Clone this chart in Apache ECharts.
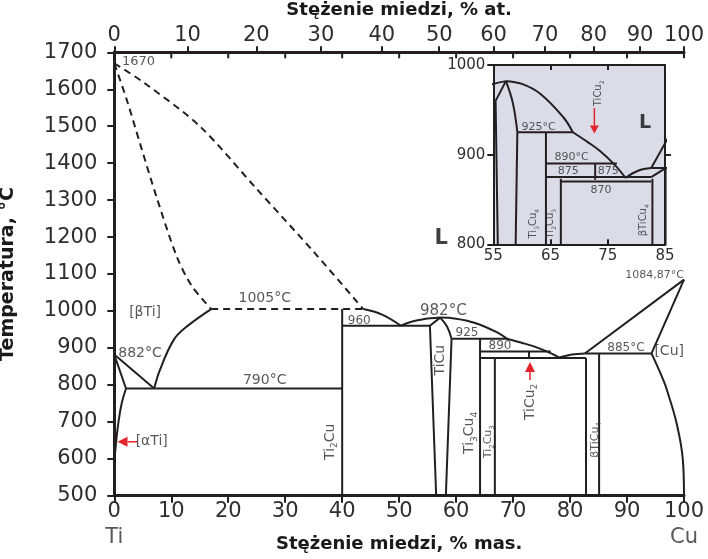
<!DOCTYPE html>
<html><head><meta charset="utf-8">
<script src="https://cdn.jsdelivr.net/npm/echarts@6/dist/echarts.min.js"></script>
<style>html,body{margin:0;padding:0;background:#fff}#c{width:708px;height:559px}</style>
</head><body><div id="c"></div>
<script>
// ---- axis ticks ----
const wtTicks = [0,10,20,30,40,50,60,70,80,90,100];
const atTicks = [0,10,20,30,40,50,60,70,80,90,100];
const tempMin = 500, tempMax = 1700, tempStep = 100;
const insetXLabels = [55,65,75,85];
const insetXTicks = [65,75];
const insetYLabels = [800,900,1000];
const insetYRightTicks = [900];

// ---- phase boundaries (wt% Cu, °C) ----
const liqDashA = [[0,1670],[2.2,1571],[4.5,1454],[7.4,1309],[10.9,1150],[13.5,1070],[17,1005]];
const liqDashB = [[0,1670],[5,1620],[15,1500],[25,1330],[35,1160],[43.7,1005]];
const peri1005 = [[17,1005],[43.7,1005]];
const betaTiSolvus = [[7,790],[8,840],[10.4,921],[12.5,955],[17,1005]];
const lineA882 = [[0,882],[7,790]];
const lineB882 = [[0,882],[2.05,790]];
const alphaTiSolvus = [[2.05,790],[1.3,750],[0.7,696],[0.3,642],[0,578],[0,500]];
const eut790 = [[2.05,790],[40,790]];
const ti2cuLine = [[40,1005],[40,500]];
const eut960 = [[40,960],[55.4,960]];
const liq1 = [[43.7,1005],[47,990],[50.3,960]];
const liq2 = [[50.3,960],[52,970],[54,977],[57.2,982]];
const ticuLeft = [[57.2,982],[55.4,960],[56.5,500]];
const ticuRightTop = [[57.2,982],[58.4,958],[59.2,925]];
const ticuRight = [[59.2,925],[58.2,500]];
const liq3 = [[57.2,982],[60,979],[63.2,968],[67.2,942],[68.9,925]];
const liq4 = [[68.9,925],[71.5,914],[73.65,904],[76.3,888],[78.1,874]];
const peri925 = [[59.2,925],[68.9,925]];
const ti3cu4Line = [[64.2,925],[64.2,500]];
const peri890 = [[64.2,890],[76.6,890]];
const ticu2Line = [[72.8,890],[72.8,872]];
const eut873 = [[64.2,873],[82.8,873]];
const ti2cu3Line = [[66.8,873],[66.8,500]];
const bTiCu4Left = [[82.8,873],[82.8,500]];
const bTiCu4Right = [[85.1,885],[85.1,500]];
const liq5 = [[78.1,874],[80.3,882],[82.6,885]];
const liqCu = [[82.6,885],[100,1084.87]];
const peri885 = [[82.6,885],[94.3,885]];
const solidusCu = [[94.3,885],[100,1084.87]];
const solvusCu = [[94.3,885],[96.4,812],[97.0,786],[98.7,696],[99.8,597],[100,500]];
// inset-only detail
const ins875 = [[64.2,875],[82.6,875]];
const ins870 = [[66.8,870],[82.6,870]];
const insDiag = [[82.6,875],[85.1,885]];

// at.% -> wt.% for the upper scale
const M_TI = 47.867, M_CU = 63.546;
const atToWt = a => 100 * a * M_CU / (a * M_CU + (100 - a) * M_TI);
const atWt = atTicks.map(atToWt);

const INK = '#231f20', TXT = '#2e2e2e', RED = '#e1252b', FONT = 'DejaVu Sans';

function ln(data, o) {
  o = o || {};
  return {type:'line', data, xAxisIndex:o.g?2:0, yAxisIndex:o.g?2:0, showSymbol:false, symbol:'none',
    smooth:o.s||false, silent:true, animation:false, z:3,
    lineStyle:{color:INK, width:o.w||2, type:o.d?[7,5]:'solid'}};
}
const mainSets = [
  [liqDashA,{d:1,s:0.3}],[liqDashB,{d:1,s:0.3}],[peri1005,{d:1}],
  [betaTiSolvus,{s:0.4}],[lineA882],[lineB882],[alphaTiSolvus,{s:0.4}],[eut790],[ti2cuLine],
  [eut960],[liq1,{s:0.4}],[liq2,{s:0.4}],[ticuLeft],[ticuRightTop,{s:0.4}],[ticuRight],
  [liq3,{s:0.4}],[liq4,{s:0.4}],[peri925],[ti3cu4Line],[peri890],[ticu2Line],[eut873],
  [ti2cu3Line],[bTiCu4Left],[bTiCu4Right],[liq5,{s:0.4}],[liqCu],[peri885],[solidusCu],[solvusCu,{s:0.4}]
];
const insetSets = [
  [liq2,{s:0.4}],[ticuLeft],[ticuRightTop,{s:0.4}],[ticuRight],[liq3,{s:0.4}],[liq4,{s:0.4}],
  [peri925],[ti3cu4Line],[peri890],[ticu2Line],[ins875],[ins870],[insDiag],[ti2cu3Line],
  [bTiCu4Left],[bTiCu4Right],[liq5,{s:0.4}],[liqCu],[peri885]
];

// ---- annotations: [text, x, y, fontSize, opts] ----
const mainNotes = [
  ['1670',1.35,1674,13,{al:'left'}],
  ['[βTi]',5.4,997,14],
  ['882°C',0.7,886,14,{al:'left'}],
  ['1005°C',26.4,1035,14],
  ['790°C',26.4,813,14],
  ['960',43,974,12],
  ['982°C',57.75,1000,15],
  ['925',61.9,941,12],
  ['890',67.7,905,12],
  ['885°C',89.8,900,12],
  ['[Cu]',97.4,890,14],
  ['1084,87°C',100,1097,11,{al:'right'}],
  ['{n|TiCu}',57.2,867,14,{r:90}],
  ['{n|Ti}{s|2}{n|Cu}',37.9,646,14,{r:90}],
  ['{n|Ti}{s|3}{n|Cu}{s|4}',62.4,670,14,{r:90}],
  ['{n|Ti}{s|2}{n|Cu}{s|3}',65.6,646,11,{r:90}],
  ['{n|TiCu}{s|2}',72.97,754,14,{r:90}],
  ['{n|βTiCu}{s|4}',84.4,651,11,{r:90}],
  ['[αTi]',6.57,646,14],
  ['L',57.4,1197,21,{b:1}],
  ['Ti',0,500,21,{oy:42}],
  ['Cu',100,500,21,{oy:42}]
];
const insetNotes = [
  ['925°C',62.9,930.4,11],
  ['890°C',68.7,896.9,11],
  ['875',68.1,881.9,11],
  ['875',75.1,881.9,11],
  ['870',73.8,860.3,11],
  ['{n|TiCu}{s|2}',73.4,968.4,10,{r:90}],
  ['L',81.5,934.9,19,{b:1}],
  ['{n|Ti}{s|3}{n|Cu}{s|4}',62.0,823,10,{r:90}],
  ['{n|Ti}{s|2}{n|Cu}{s|3}',65.0,823,10,{r:90}],
  ['{n|βTiCu}{s|4}',81.2,826.8,10,{r:90}]
];
// arrows: [x_tail, y_tail, x_tip, y_tip]
const mainArrows = [[72.97,813,72.97,862],[4.0,646,0.56,646]];
const insetArrows = [[72.66,952,72.66,923.5]];

function noteSeries(notes, g) {
  return {type:'scatter', xAxisIndex:g?2:0, yAxisIndex:g?2:0, symbolSize:1, silent:true, animation:false, z:5,
    itemStyle:{color:'rgba(0,0,0,0)'},
    data: notes.map(([t,x,y,fs,o]) => {
      o = o || {};
      return {value:[x,y], label:{show:true, position:'inside', formatter:t, rotate:o.r||0,
        align:o.al||'center', verticalAlign:'middle', offset:[0,o.oy||0],
        fontSize:fs, fontFamily:FONT, fontWeight:o.b?'bold':'normal', color:o.b?'#111':TXT,
        rich:{n:{fontSize:fs, fontFamily:FONT, color:TXT, lineHeight:fs+4},
              s:{fontSize:Math.round(fs*0.62), fontFamily:FONT, color:TXT, verticalAlign:'bottom', lineHeight:fs+4}}}};
    })};
}
function arrowSeries(arr, g, head, wid) {
  return {type:'custom', xAxisIndex:g?2:0, yAxisIndex:g?2:0, silent:true, animation:false, z:6, clip:false,
    data: arr,
    renderItem:(p, api) => {
      const a = api.coord([api.value(0), api.value(1)]), b = api.coord([api.value(2), api.value(3)]);
      const dx = b[0]-a[0], dy = b[1]-a[1], L = Math.hypot(dx,dy), ux = dx/L, uy = dy/L;
      const bx = b[0]-ux*head, by = b[1]-uy*head;
      return {type:'group', children:[
        {type:'line', shape:{x1:a[0],y1:a[1],x2:bx,y2:by}, style:{stroke:RED, lineWidth:1.5}},
        {type:'polygon', shape:{points:[[b[0],b[1]],[bx-uy*wid/2,by+ux*wid/2],[bx+uy*wid/2,by-ux*wid/2]]}, style:{fill:RED}}
      ]};
    }};
}
const topInnerTicks = {type:'custom', xAxisIndex:0, yAxisIndex:0, silent:true, animation:false, z:6, clip:false,
  data: wtTicks.map(v => [v]),
  renderItem:(p, api) => {
    const q = api.coord([api.value(0), tempMax]);
    return {type:'line', shape:{x1:q[0], y1:q[1], x2:q[0], y2:q[1]+6}, style:{stroke:INK, lineWidth:2}};
  }};

const plain = v => String(v);
const axLine3 = {show:true, lineStyle:{color:INK, width:3}};
const axLine2 = {show:true, lineStyle:{color:INK, width:2}};
const lbl = (fs, m) => ({color:TXT, fontSize:fs, fontFamily:FONT, margin:m, formatter:plain});
const nameStyle = fs => ({color:'#1a1a1a', fontSize:fs, fontWeight:'bold', fontFamily:FONT});

const option = {
  animation:false,
  grid:[
    {left:114.3, top:52.3, right:24, bottom:63.3, show:false, containLabel:false, outerBoundsMode:'none'},
    {left:493.3, top:65, width:171.7, height:179.3, show:true, backgroundColor:'#dcdce9', borderWidth:0, containLabel:false, outerBoundsMode:'none'}
  ],
  xAxis:[
    {gridIndex:0, type:'value', position:'bottom', min:0, max:100, interval:10,
     axisLine:axLine3, axisTick:{show:true, length:7, lineStyle:{color:INK, width:2}},
     axisLabel:lbl(21,5), splitLine:{show:false},
     name:'Stężenie miedzi, % mas.', nameLocation:'middle', nameGap:40, nameTextStyle:nameStyle(18)},
    {gridIndex:0, type:'value', position:'top', min:0, max:100,
     axisLine:axLine3,
     axisTick:{show:true, length:6, customValues:atWt, lineStyle:{color:INK, width:2}},
     axisLabel:Object.assign(lbl(21,6), {show:true, customValues:atWt,
       formatter:v => { let bi=0; atWt.forEach((w,i)=>{ if (Math.abs(w-v) < Math.abs(atWt[bi]-v)) bi=i; }); return String(atTicks[bi]); }}),
     splitLine:{show:false},
     name:'Stężenie miedzi, % at.', nameLocation:'middle', nameGap:33, nameTextStyle:nameStyle(18)},
    {gridIndex:1, type:'value', position:'bottom', min:55, max:85,
     axisLine:axLine2, axisTick:{show:true, inside:true, length:5, customValues:insetXTicks, lineStyle:{color:INK, width:2}},
     axisLabel:Object.assign(lbl(15,4), {show:true, customValues:insetXLabels}), splitLine:{show:false}},
    {gridIndex:1, type:'value', position:'top', min:55, max:85,
     axisLine:axLine2, axisTick:{show:true, inside:true, length:5, customValues:insetXTicks, lineStyle:{color:INK, width:2}},
     axisLabel:{show:false}, splitLine:{show:false}}
  ],
  yAxis:[
    {gridIndex:0, type:'value', position:'left', min:tempMin, max:tempMax, interval:tempStep,
     axisLine:axLine3, axisTick:{show:true, length:7, lineStyle:{color:INK, width:2}},
     axisLabel:lbl(21,17), splitLine:{show:false},
     name:'Temperatura, °C', nameLocation:'middle', nameGap:97, nameTextStyle:nameStyle(19)},
    {gridIndex:0, type:'value', position:'right', min:tempMin, max:tempMax, interval:tempStep,
     axisLine:axLine3, axisTick:{show:true, inside:true, length:7, lineStyle:{color:INK, width:2}},
     axisLabel:{show:false}, splitLine:{show:false}},
    {gridIndex:1, type:'value', position:'left', min:800, max:1000,
     axisLine:axLine2, axisTick:{show:true, length:6, customValues:insetYLabels, lineStyle:{color:INK, width:2}},
     axisLabel:Object.assign(lbl(15,8), {show:true, customValues:insetYLabels}), splitLine:{show:false}},
    {gridIndex:1, type:'value', position:'right', min:800, max:1000,
     axisLine:axLine2, axisTick:{show:true, length:6, customValues:insetYRightTicks, lineStyle:{color:INK, width:2}},
     axisLabel:{show:false}, splitLine:{show:false}}
  ],
  series:[
    ...mainSets.map(([d,o]) => ln(d,o)),
    ...insetSets.map(([d,o]) => ln(d, Object.assign({g:1}, o||{}))),
    noteSeries(mainNotes, 0),
    noteSeries(insetNotes, 1),
    arrowSeries(mainArrows, 0, 10, 10),
    arrowSeries(insetArrows, 1, 8, 9),
    topInnerTicks
  ]
};
const chart = echarts.init(document.getElementById('c'), null, {renderer:'canvas'});
chart.setOption(option);
</script>
</body></html>
